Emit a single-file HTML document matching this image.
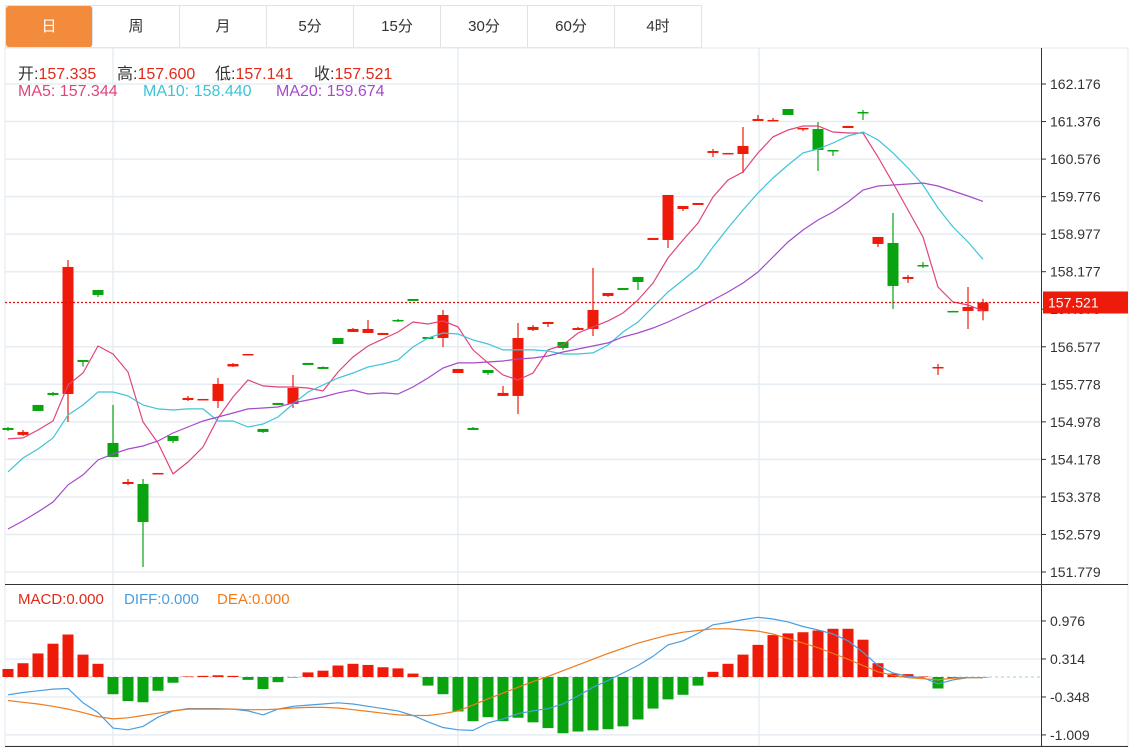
<!DOCTYPE html>
<html><head><meta charset="utf-8"><style>
body{margin:0;background:#fff;width:1142px;height:749px;overflow:hidden;font-family:"Liberation Sans","Noto Sans CJK SC",sans-serif;}
#tabs{position:absolute;left:5px;top:5px;height:43px;display:flex;border:1px solid #dde3e8;border-right:none;box-sizing:border-box;}
.tab{width:87px;height:41px;line-height:41px;text-align:center;font-size:15px;color:#333;border-right:1px solid #dde3e8;box-sizing:border-box;}
.tab.on{background:#f28b3c;color:#fff;border-radius:3px;}
svg{position:absolute;left:0;top:0;}
.lg{position:absolute;white-space:nowrap;}
</style></head><body>
<div id="tabs">
<div class="tab on">日</div>
<div class="tab">周</div>
<div class="tab">月</div>
<div class="tab">5分</div>
<div class="tab">15分</div>
<div class="tab">30分</div>
<div class="tab">60分</div>
<div class="tab">4时</div>
</div>
<svg id="chart" width="1142" height="749"></svg>
<script>
const openP=[154.848,154.699,155.338,155.594,155.572,156.297,157.788,154.528,153.654,153.654,153.868,154.677,155.444,155.444,155.423,156.158,156.403,154.827,155.381,155.359,156.233,156.147,156.765,156.893,156.872,156.829,157.149,157.596,156.786,156.765,156.019,154.848,156.083,155.530,155.530,156.936,157.063,156.680,156.936,156.957,157.660,157.830,158.065,158.853,158.853,159.513,159.599,160.707,160.685,160.685,161.388,161.388,161.644,161.218,161.218,160.770,161.239,161.580,158.768,158.789,158.022,158.320,156.126,157.341,157.341,157.335];
const closeP=[154.805,154.763,155.210,155.551,158.278,156.254,157.681,154.230,153.697,152.845,153.889,154.571,155.487,155.466,155.785,156.211,156.424,154.763,155.338,155.700,156.190,156.105,156.637,156.957,156.957,156.872,157.127,157.554,156.744,157.255,156.105,154.805,156.019,155.594,156.765,157.000,157.106,156.552,156.978,157.362,157.724,157.788,157.958,158.896,159.812,159.577,159.641,160.749,160.707,160.856,161.431,161.410,161.516,161.239,160.770,160.749,161.282,161.559,158.917,157.873,158.065,158.299,156.147,157.319,157.426,157.521];
const highP=[154.869,154.805,155.338,155.615,158.427,156.297,157.788,155.338,153.761,153.761,153.889,154.677,155.530,155.466,155.913,156.233,156.424,154.827,155.381,155.977,156.233,156.158,156.765,156.978,157.149,156.872,157.170,157.596,156.786,157.362,156.105,154.869,156.083,155.743,157.085,157.042,157.106,156.680,157.000,158.257,157.724,157.830,158.065,158.896,159.812,159.577,159.641,160.792,160.707,161.260,161.516,161.452,161.644,161.239,161.367,160.770,161.282,161.623,158.917,159.428,158.107,158.384,156.211,157.341,157.852,157.600];
const lowP=[154.784,154.677,155.210,155.530,154.976,156.158,157.639,154.230,153.633,151.886,153.868,154.528,155.423,155.444,155.274,156.147,156.403,154.741,155.338,155.274,156.190,156.105,156.637,156.893,156.872,156.829,157.106,157.554,156.744,156.573,156.019,154.805,155.977,155.530,155.146,156.914,157.000,156.510,156.936,156.808,157.639,157.788,157.788,158.853,158.683,159.471,159.599,160.621,160.685,160.280,161.388,161.388,161.516,161.175,160.323,160.643,161.239,161.410,158.704,157.383,157.937,158.257,155.977,157.319,156.957,157.141];
const ma5=[154.614,154.635,154.805,154.997,155.764,156.019,156.595,156.424,156.041,154.976,154.528,153.868,154.123,154.443,155.061,155.508,155.870,155.743,155.721,155.721,155.700,155.636,156.041,156.360,156.595,156.744,156.893,157.106,157.063,157.128,157.000,156.510,156.233,155.977,155.870,156.019,156.510,156.616,156.872,157.000,157.128,157.298,157.575,157.937,158.470,158.853,159.215,159.769,160.131,160.302,160.707,161.048,161.197,161.282,161.282,161.154,161.133,161.133,160.621,160.067,159.492,158.917,157.852,157.532,157.468,157.344];
const ma10=[153.911,154.208,154.400,154.634,155.125,155.338,155.615,155.615,155.530,155.338,155.253,155.231,155.253,155.253,154.997,154.997,154.869,154.933,155.082,155.359,155.615,155.764,155.913,156.019,156.147,156.211,156.297,156.573,156.765,156.872,156.850,156.723,156.637,156.510,156.510,156.510,156.488,156.424,156.424,156.446,156.616,156.893,157.106,157.426,157.745,158.001,158.257,158.704,159.109,159.492,159.854,160.174,160.451,160.707,160.792,160.920,161.069,161.154,160.984,160.707,160.387,160.025,159.535,159.130,158.810,158.440];
const ma20=[152.696,152.867,153.059,153.271,153.634,153.847,154.166,154.294,154.400,154.464,154.571,154.741,154.869,154.997,155.082,155.167,155.253,155.274,155.295,155.381,155.444,155.508,155.594,155.657,155.572,155.594,155.572,155.721,155.913,156.126,156.233,156.233,156.254,156.275,156.318,156.339,156.382,156.467,156.531,156.595,156.659,156.786,156.872,156.978,157.106,157.255,157.404,157.575,157.745,157.937,158.171,158.491,158.810,159.066,159.279,159.449,159.663,159.918,160.003,160.025,160.046,160.067,160.003,159.897,159.790,159.674];
const macdBars=[0.14,0.24,0.41,0.58,0.74,0.39,0.23,-0.30,-0.42,-0.44,-0.24,-0.10,0.01,0.02,0.03,0.02,-0.05,-0.21,-0.09,0.0,0.08,0.11,0.20,0.23,0.21,0.17,0.15,0.06,-0.15,-0.30,-0.60,-0.77,-0.70,-0.77,-0.71,-0.79,-0.89,-0.98,-0.95,-0.93,-0.91,-0.86,-0.74,-0.55,-0.39,-0.31,-0.15,0.09,0.23,0.39,0.56,0.73,0.76,0.78,0.81,0.84,0.84,0.65,0.24,0.06,0.05,0.01,-0.20,-0.02,0.0,0.0];
const diff=[-0.31,-0.27,-0.24,-0.21,-0.20,-0.45,-0.62,-0.89,-0.92,-0.86,-0.70,-0.59,-0.55,-0.55,-0.55,-0.56,-0.59,-0.66,-0.56,-0.51,-0.49,-0.47,-0.45,-0.47,-0.51,-0.55,-0.59,-0.67,-0.78,-0.88,-0.92,-0.93,-0.80,-0.73,-0.64,-0.59,-0.55,-0.47,-0.33,-0.18,-0.06,0.07,0.20,0.36,0.56,0.63,0.76,0.91,0.95,1.00,1.04,1.01,0.96,0.88,0.82,0.75,0.63,0.43,0.20,0.07,0.01,-0.01,-0.12,-0.05,-0.01,-0.01];
const dea=[-0.41,-0.44,-0.47,-0.51,-0.56,-0.62,-0.69,-0.73,-0.71,-0.67,-0.63,-0.59,-0.56,-0.56,-0.56,-0.56,-0.57,-0.57,-0.56,-0.54,-0.53,-0.53,-0.54,-0.57,-0.60,-0.63,-0.66,-0.67,-0.67,-0.64,-0.59,-0.49,-0.38,-0.28,-0.18,-0.08,0.01,0.11,0.21,0.31,0.41,0.50,0.59,0.66,0.73,0.78,0.81,0.84,0.84,0.82,0.80,0.75,0.67,0.59,0.51,0.41,0.31,0.20,0.09,0.03,-0.01,-0.03,-0.05,-0.02,-0.01,-0.01];
const priceTicks=[162.176,161.376,160.576,159.776,158.977,158.177,157.378,156.577,155.778,154.978,154.178,153.378,152.579,151.779];
const macdTicks=[0.976,0.314,-0.348,-1.009];
const lastPrice=157.521;

const svg=document.getElementById('chart');
const NS='http://www.w3.org/2000/svg';
function mk(tag,attrs,parent,name,inter){const e=document.createElementNS(NS,tag);for(const k in attrs)e.setAttribute(k,attrs[k]);


(parent||svg).appendChild(e);return e;}
const X0=8,DX=15;
const xAt=i=>X0+i*DX;
const yP=p=>84+(162.176-p)*(488/10.397);
const yM=v=>677-v*57.4;

mk('rect',{x:5,y:48,width:1123,height:698,fill:'none',stroke:'#e3e8ec'},svg,'chart-frame');
priceTicks.forEach((t,i)=>{if(i===6)return;const y=yP(t);mk('line',{x1:5,x2:1041,y1:y,y2:y,stroke:'#e6edf2','stroke-width':1.5},svg,'price-gridline');});
macdTicks.forEach(t=>{const y=yM(t);mk('line',{x1:5,x2:1041,y1:y,y2:y,stroke:'#e6edf2','stroke-width':1.5},svg,'macd-gridline');});
[113,458,759].forEach(x=>{mk('line',{x1:x,x2:x,y1:48,y2:746,stroke:'#e6edf2','stroke-width':1.5},svg,'vertical-gridline');});
mk('line',{x1:1041.5,x2:1041.5,y1:48,y2:746,stroke:'#333'},svg,'y-axis-line');
mk('line',{x1:5,x2:1128,y1:584.5,y2:584.5,stroke:'#333'},svg,'panel-divider');
mk('line',{x1:5,x2:1128,y1:746.5,y2:746.5,stroke:'#333'},svg,'bottom-axis-line');
priceTicks.forEach(t=>{const y=yP(t);mk('line',{x1:1041,x2:1046,y1:y,y2:y,stroke:'#333'},svg,'price-tick');
const tx=mk('text',{x:1050,y:y+5,'font-size':14,fill:'#333'},svg,'price-tick-label');tx.textContent=t.toFixed(3);});
macdTicks.forEach(t=>{const y=yM(t);mk('line',{x1:1041,x2:1046,y1:y,y2:y,stroke:'#333'},svg,'macd-tick');
const tx=mk('text',{x:1050,y:y+5,'font-size':14,fill:'#333'},svg,'macd-tick-label');tx.textContent=(t<0?'-':'')+Math.abs(t).toFixed(3);});

function line(arr,yf,color,name){const d=arr.map((v,i)=>(i?'L':'M')+xAt(i)+','+yf(v).toFixed(1)).join('');
mk('path',{d:d,fill:'none',stroke:color,'stroke-width':1.2},svg,name);}
openP.forEach((o,i)=>{const c=closeP[i],up=c>=o,col=up?'#ee1a0a':'#0aa310',x=xAt(i);
const g=mk('g',{},svg,'candle',true);
mk('line',{x1:x,x2:x,y1:yP(highP[i]),y2:yP(lowP[i]),stroke:col,'stroke-width':1.2},g,'candle-wick');
const y1=yP(Math.max(o,c)),y2=yP(Math.min(o,c));
mk('rect',{x:x-5.5,y:y1,width:11,height:Math.max(1.5,y2-y1),fill:col},g,'candle-body');});
line(ma5,yP,'#e0457b','ma5-line');
line(ma10,yP,'#3ec4d8','ma10-line');
line(ma20,yP,'#a64ac9','ma20-line');
const ly=yP(lastPrice);
mk('line',{x1:5,x2:1041,y1:ly,y2:ly,stroke:'#e01010','stroke-dasharray':'2,2','stroke-width':1.2},svg,'last-price-line');
mk('rect',{x:1043,y:ly-11,width:85,height:22,fill:'#ee1a0a'},svg,'last-price-box');
const lt=mk('text',{x:1048,y:ly+5,'font-size':14,fill:'#fff'},svg,'last-price-label');lt.textContent=lastPrice.toFixed(3);

mk('line',{x1:5,x2:1041,y1:677,y2:677,stroke:'#9fd3e0','stroke-dasharray':'3,3'},svg,'macd-zero-line');
macdBars.forEach((v,i)=>{const y=yM(v),y0=yM(0);
mk('rect',{x:xAt(i)-5.5,y:Math.min(y,y0),width:11,height:Math.max(0.5,Math.abs(y-y0)),fill:v>=0?'#ee1a0a':'#0aa310'},svg,'macd-bar');});
line(diff,yM,'#4a9ee0','diff-line');
line(dea,yM,'#f07b1c','dea-line');
</script>
<div style="font-size:16px;color:#333">
<span class="lg" style="left:18px;top:60px">开:<span style="color:#e02a1a">157.335</span></span>
<span class="lg" style="left:117px;top:60px">高:<span style="color:#e02a1a">157.600</span></span>
<span class="lg" style="left:215px;top:60px">低:<span style="color:#e02a1a">157.141</span></span>
<span class="lg" style="left:314px;top:60px">收:<span style="color:#e02a1a">157.521</span></span>
</div>
<div style="font-size:16px">
<span class="lg" style="left:18px;top:83px;color:#e0457b">MA5: 157.344</span>
<span class="lg" style="left:143px;top:83px;color:#3ec4d8">MA10: 158.440</span>
<span class="lg" style="left:276px;top:83px;color:#a64ac9">MA20: 159.674</span>
</div>
<div style="font-size:15px">
<span class="lg" style="left:18px;top:591px;color:#e02a1a">MACD:0.000</span>
<span class="lg" style="left:124px;top:591px;color:#4a9ee0">DIFF:0.000</span>
<span class="lg" style="left:217px;top:591px;color:#f07b1c">DEA:0.000</span>
</div>
</body></html>
